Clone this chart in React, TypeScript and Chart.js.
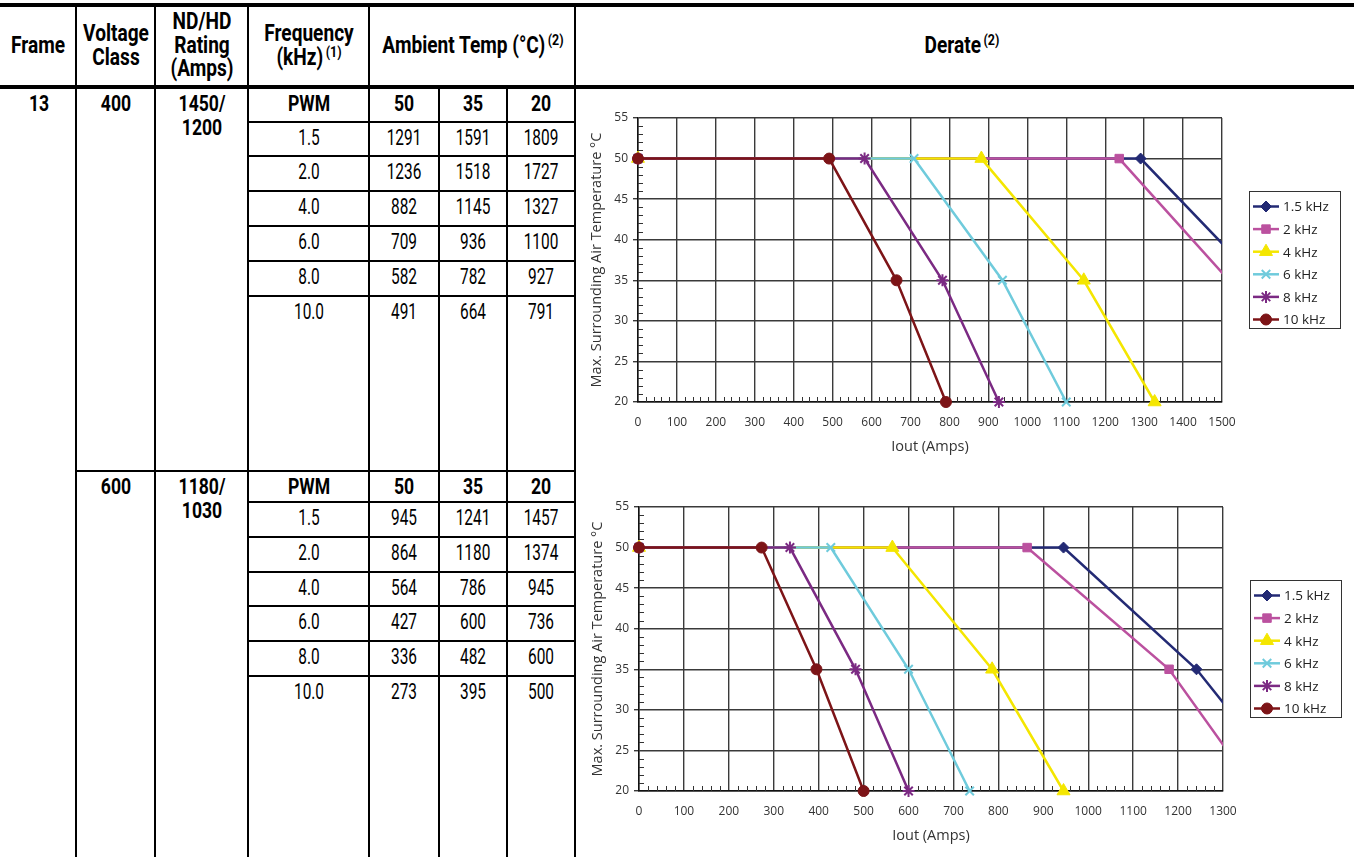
import React, { useEffect, useRef } from 'react';
import { Chart, registerables } from 'chart.js';
import { drawPoint } from 'chart.js/helpers';

Chart.register(...registerables);

// ---------- data ----------
const frequencies = ['1.5', '2.0', '4.0', '6.0', '8.0', '10.0'];
const seriesLabels = ['1.5 kHz', '2 kHz', '4 kHz', '6 kHz', '8 kHz', '10 kHz'];
const ambientTemps = [50, 35, 20];

// Frame 13, 400 V class, ND/HD 1450/1200 A
const amps400At50 = [1291, 1236, 882, 709, 582, 491];
const amps400At35 = [1591, 1518, 1145, 936, 782, 664];
const amps400At20 = [1809, 1727, 1327, 1100, 927, 791];

// Frame 13, 600 V class, ND/HD 1180/1030 A
const amps600At50 = [945, 864, 564, 427, 336, 273];
const amps600At35 = [1241, 1180, 786, 600, 482, 395];
const amps600At20 = [1457, 1374, 945, 736, 600, 500];

const xMax400 = 1500;
const xMax600 = 1300;
const xStep = 100;
const yMin = 20;
const yMax = 55;
const yStep = 5;

// ---------- styles ----------
const seriesColors = ['#232a74', '#bb519f', '#f4e600', '#6fcbdc', '#7b2a83', '#7d1417'];
const seriesMarkers = ['rectRot', 'rect', 'triangle', 'crossRot', 'star', 'circle'];
const markerRadius = [5.5, 6, 7.5, 6, 6, 5.5];

const CHART_FONT = '"Open Sans", "Noto Sans", sans-serif';
const TABLE_FONT = 'Roboto, "Noto Sans", sans-serif';

function buildDatasets(a50: number[], a35: number[], a20: number[]) {
  return seriesLabels.map((label, i) => ({
    label,
    data: [
      { x: 0, y: ambientTemps[0] },
      { x: a50[i], y: ambientTemps[0] },
      { x: a35[i], y: ambientTemps[1] },
      { x: a20[i], y: ambientTemps[2] },
    ],
    borderColor: seriesColors[i],
    backgroundColor: seriesColors[i],
    borderWidth: 2.5,
    pointStyle: seriesMarkers[i],
    pointRadius: markerRadius[i],
    pointHoverRadius: markerRadius[i],
    pointBackgroundColor: seriesColors[i],
    pointBorderColor: seriesColors[i],
    pointBorderWidth: i === 3 || i === 4 ? 2 : 1,
    tension: 0,
    order: seriesLabels.length - i,
    clip: { left: 12, top: 12, right: 0, bottom: 12 },
  }));
}

const minorTicks = {
  id: 'minorTicks',
  beforeDatasetsDraw(chart: any) {
    const { ctx, chartArea: a, scales } = chart;
    const x = scales.x;
    const y = scales.y;
    ctx.save();
    ctx.strokeStyle = '#333';
    ctx.lineWidth = 1;
    ctx.beginPath();
    for (let v = x.min; v <= x.max; v += 20) {
      if (v % 100 === 0) continue;
      const px = Math.round(x.getPixelForValue(v)) + 0.5;
      ctx.moveTo(px, a.bottom);
      ctx.lineTo(px, a.bottom - 5);
    }
    for (let v = y.min; v <= y.max; v += 1) {
      if (v % 5 === 0) continue;
      const py = Math.round(y.getPixelForValue(v)) + 0.5;
      ctx.moveTo(a.left, py);
      ctx.lineTo(a.left + 5, py);
    }
    ctx.stroke();
    ctx.restore();
  },
};

const boxLegend = {
  id: 'boxLegend',
  afterDraw(chart: any) {
    const { ctx, chartArea: a } = chart;
    const left = Math.round(a.right + 27);
    const top = Math.round(a.top + 73);
    const w = 91;
    const h = 137;
    ctx.save();
    ctx.fillStyle = '#fff';
    ctx.fillRect(left, top, w, h);
    ctx.strokeStyle = '#333';
    ctx.lineWidth = 1;
    ctx.strokeRect(left + 0.5, top + 0.5, w, h);
    chart.data.datasets.forEach((ds: any, i: number) => {
      const cy = top + 15.5 + i * 22.6;
      ctx.strokeStyle = ds.borderColor;
      ctx.lineWidth = 2.5;
      ctx.beginPath();
      ctx.moveTo(left + 4, cy);
      ctx.lineTo(left + 30, cy);
      ctx.stroke();
      ctx.fillStyle = ds.pointBackgroundColor;
      ctx.strokeStyle = ds.pointBorderColor;
      ctx.lineWidth = ds.pointBorderWidth;
      drawPoint(ctx, { pointStyle: ds.pointStyle, radius: ds.pointRadius, rotation: 0, borderWidth: ds.pointBorderWidth } as any, left + 17, cy);
      ctx.fillStyle = '#222';
      ctx.font = '13.5px ' + CHART_FONT;
      ctx.textBaseline = 'middle';
      ctx.textAlign = 'left';
      ctx.fillText(ds.label, left + 34, cy + 1);
    });
    ctx.restore();
  },
};

function DerateChart({ a50, a35, a20, xMax, left, top }: { a50: number[]; a35: number[]; a20: number[]; xMax: number; left: number; top: number }) {
  const ref = useRef<HTMLCanvasElement | null>(null);
  useEffect(() => {
    if (!ref.current) return;
    const tickFont = { family: CHART_FONT, size: 12 };
    const chart = new Chart(ref.current, {
      type: 'line',
      data: { datasets: buildDatasets(a50, a35, a20) as any },
      options: {
        animation: false,
        responsive: false,
        devicePixelRatio: 1,
        layout: { padding: { left: 0, top: 26, right: 130, bottom: 0 } },
        plugins: { legend: { display: false }, tooltip: { enabled: false } },
        scales: {
          x: {
            type: 'linear',
            min: 0,
            max: xMax,
            ticks: { stepSize: xStep, padding: 13, color: '#333', font: tickFont, maxRotation: 0, autoSkip: false, callback: (v: any) => String(v) },
            grid: { color: '#3a3a3a', lineWidth: 1.4, drawTicks: false },
            border: { color: '#111', width: 1.5 },
            title: { display: true, text: 'Iout (Amps)', color: '#333', font: { family: CHART_FONT, size: 14.5 }, padding: { top: 0, bottom: 11.3 } },
            afterFit: (s: any) => { s.height = 65; },
          },
          y: {
            type: 'linear',
            min: yMin,
            max: yMax,
            ticks: { stepSize: yStep, padding: 5, color: '#333', font: tickFont, callback: (v: any) => String(v) },
            grid: { color: '#3a3a3a', lineWidth: 1.4, tickLength: 5 },
            border: { color: '#111', width: 1.5 },
            title: { display: true, text: 'Max. Surrounding Air Temperature °C', color: '#333', font: { family: CHART_FONT, size: 14.5 }, padding: { top: 11.3, bottom: 0 } },
            afterFit: (s: any) => { s.width = 61; },
          },
        },
      } as any,
      plugins: [minorTicks, boxLegend],
    });
    return () => chart.destroy();
  }, []);
  return (
    <canvas ref={ref} width={775} height={375} style={{ position: 'absolute', left, top, width: 775, height: 375 }} />
  );
}

function Txt({ x, y, children, size = 22, weight = 400, sx = 0.7 }: any) {
  return (
    <div
      style={{
        position: 'absolute',
        left: x,
        top: y,
        transform: `translate(-50%, -50%) scaleX(${sx})`,
        fontFamily: TABLE_FONT,
        fontSize: size,
        fontWeight: weight,
        lineHeight: 1,
        whiteSpace: 'nowrap',
        color: '#000',
      }}
    >
      {children}
    </div>
  );
}

function Sup({ children }: any) {
  return <span style={{ fontSize: 15, position: 'relative', top: -8, marginLeft: 3 }}>{children}</span>;
}

function Line({ x, y, w, h }: any) {
  return <div style={{ position: 'absolute', left: x, top: y, width: w, height: h, background: '#000' }} />;
}

const colCenters = { frame: 38, volt: 115.5, rating: 201.5, freq: 308.5, t50: 404, t35: 473, t20: 541 };

export default function App() {
  const rowStep = 34.8;
  const sec1Lines = frequencies.map((_, i) => 121.5 + i * rowStep);
  const sec2Lines = frequencies.map((_, i) => 502 + i * rowStep);
  const hb = { size: 23, weight: 700, sx: 0.83 };
  const bb = { size: 22, weight: 700, sx: 0.8 };
  const rg = { size: 22, weight: 400, sx: 0.7 };

  const section = (
    startY: number,
    lines: number[],
    volt: string,
    r1: string,
    r2: string,
    a50: number[],
    a35: number[],
    a20: number[],
    frame?: string
  ) => (
    <>
      {lines.map((ly, i) => (
        <Line key={'l' + i} x={247} y={ly - 1} w={329} h={2} />
      ))}
      {frame && <Txt x={colCenters.frame + 1} y={startY} {...bb}>{frame}</Txt>}
      <Txt x={colCenters.volt} y={startY} {...bb}>{volt}</Txt>
      <Txt x={colCenters.rating} y={startY} {...bb}>{r1}</Txt>
      <Txt x={colCenters.rating} y={startY + 24} {...bb}>{r2}</Txt>
      <Txt x={colCenters.freq} y={startY} {...bb}>PWM</Txt>
      <Txt x={colCenters.t50} y={startY} {...bb}>{String(ambientTemps[0])}</Txt>
      <Txt x={colCenters.t35} y={startY} {...bb}>{String(ambientTemps[1])}</Txt>
      <Txt x={colCenters.t20} y={startY} {...bb}>{String(ambientTemps[2])}</Txt>
      {frequencies.map((f, i) => (
        <React.Fragment key={'r' + i}>
          <Txt x={colCenters.freq} y={lines[i] + 16} {...rg}>{f}</Txt>
          <Txt x={colCenters.t50} y={lines[i] + 16} {...rg}>{String(a50[i])}</Txt>
          <Txt x={colCenters.t35} y={lines[i] + 16} {...rg}>{String(a35[i])}</Txt>
          <Txt x={colCenters.t20} y={lines[i] + 16} {...rg}>{String(a20[i])}</Txt>
        </React.Fragment>
      ))}
    </>
  );

  return (
    <div style={{ position: 'absolute', left: 0, top: 0, width: 1354, height: 857, background: '#fff', overflow: 'hidden' }}>
      {/* thick borders */}
      <Line x={0} y={3} w={1354} h={4} />
      <Line x={0} y={85} w={1354} h={4} />
      {/* verticals */}
      {[75, 154, 247, 368, 574].map((x) => (
        <Line key={'v' + x} x={x} y={3} w={2} h={860} />
      ))}
      {[438, 506].map((x) => (
        <Line key={'vv' + x} x={x} y={87} w={2} h={780} />
      ))}
      {/* section divider */}
      <Line x={75} y={469.5} w={501} h={2} />

      {/* header */}
      <Txt x={colCenters.frame} y={45} {...hb}>Frame</Txt>
      <Txt x={colCenters.volt} y={33} {...hb}>Voltage</Txt>
      <Txt x={colCenters.volt} y={57} {...hb}>Class</Txt>
      <Txt x={colCenters.rating} y={21} {...hb}>ND/HD</Txt>
      <Txt x={colCenters.rating} y={45} {...hb}>Rating</Txt>
      <Txt x={colCenters.rating} y={68} {...hb}>(Amps)</Txt>
      <Txt x={colCenters.freq} y={33} {...hb}>Frequency</Txt>
      <Txt x={colCenters.freq} y={57} {...hb}>(kHz)<Sup>(1)</Sup></Txt>
      <Txt x={473} y={45} {...hb}>Ambient Temp (°C)<Sup>(2)</Sup></Txt>
      <Txt x={962} y={45} {...hb}>Derate<Sup>(2)</Sup></Txt>

      {section(104, sec1Lines, '400', '1450/', '1200', amps400At50, amps400At35, amps400At20, '13')}
      {section(487, sec2Lines, '600', '1180/', '1030', amps600At50, amps600At35, amps600At20)}

      <DerateChart a50={amps400At50} a35={amps400At35} a20={amps400At20} xMax={xMax400} left={577} top={92} />
      <DerateChart a50={amps600At50} a35={amps600At35} a20={amps600At20} xMax={xMax600} left={578} top={481} />
    </div>
  );
}
